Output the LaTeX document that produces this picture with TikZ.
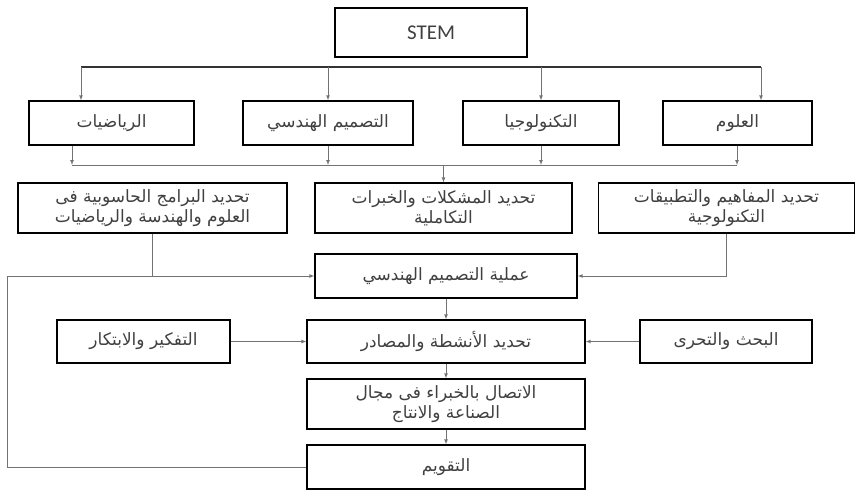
\documentclass[tikz,border=0pt]{standalone}
\usepackage{fontspec}
\setmainfont{Carlito}
\newfontfamily\arabicfont[Script=Arabic]{DejaVu Sans}
\TeXXeTstate=1
\newcommand{\artxt}[1]{\beginR #1\endR}
\usetikzlibrary{arrows}

\begin{document}
\begin{tikzpicture}[x=1pt, y=-1pt,
		>=latex,   %Pfeilspitzen
		box/.style={draw, line width=1.3pt, inner sep=1pt, align=center, text=black!75,
			font=\arabicfont\fontsize{17}{20}\selectfont},
		conn/.style={draw=black!55, line width=0.7pt}]
		\useasboundingbox (0,0) rectangle (856,490);
		% Kopf
		\node[box, minimum width=192pt, minimum height=49pt, font=\fontsize{21}{24}\selectfont] (stem) at (431,32.5) {STEM};
		% Zeile 2
		\node[box, minimum width=165pt, minimum height=44pt] (math) at (111.5,123) {\artxt{الرياضيات}};
		\node[box, minimum width=170pt, minimum height=44pt] (eng) at (328,123) {\artxt{التصميم الهندسي}};
		\node[box, minimum width=156pt, minimum height=44pt] (tech) at (541,123) {\artxt{التكنولوجيا}};
		\node[box, minimum width=149pt, minimum height=44pt] (sci) at (737.5,123) {\artxt{العلوم}};
		% Zeile 3
		\node[box, minimum width=269pt, minimum height=50pt] (prog) at (152.5,208)
			{\artxt{تحديد البرامج الحاسوبية فى}\\\artxt{العلوم والهندسة والرياضيات}};
		\node[box, minimum width=257pt, minimum height=50pt] (prob) at (443.5,208)
			{\artxt{تحديد المشكلات والخبرات}\\\artxt{التكاملية}};
		\node[box, minimum width=256pt, minimum height=50pt] (conc) at (726.5,208)
			{\artxt{تحديد المفاهيم والتطبيقات}\\\artxt{التكنولوجية}};
		% Mitte
		\node[box, minimum width=262pt, minimum height=44pt] (process) at (446,276) {\artxt{عملية التصميم الهندسي}};
		\node[box, minimum width=173pt, minimum height=43pt] (think) at (143.5,341.5) {\artxt{التفكير والابتكار}};
		\node[box, minimum width=278pt, minimum height=43pt] (act) at (446,341.5) {\artxt{تحديد الأنشطة والمصادر}};
		\node[box, minimum width=172pt, minimum height=43pt] (search) at (726,341.5) {\artxt{البحث والتحرى}};
		\node[box, minimum width=278pt, minimum height=50pt] (contact) at (446,404)
			{\artxt{الاتصال بالخبراء فى مجال}\\\artxt{الصناعة والانتاج}};
		\node[box, minimum width=278pt, minimum height=44pt] (eval) at (446,467) {\artxt{التقويم}};
		% Hilfspunkte
		\coordinate (barL) at (81,67);
		\coordinate (barR) at (761,67);
		\coordinate (lowL) at (72,165);
		\coordinate (lowR) at (737,165);
		\coordinate (fbL) at (7,276);
		% Verteilung STEM
		\draw[line width=1.6pt, black!80] (barL) -- (barR);
		\draw[conn,->] (barL) -- (barL |- math.north);
		\draw[conn,->] (eng.north |- barL) -- (eng.north);
		\draw[conn,->] (tech.north |- barL) -- (tech.north);
		\draw[conn,->] (barR) -- (barR |- sci.north);
		% Zusammenfuehrung
		\draw[conn] (lowL) -- (lowR);
		\draw[conn,->] (lowL |- math.south) -- (lowL);
		\draw[conn,->] (eng.south) -- (eng.south |- lowL);
		\draw[conn,->] (tech.south) -- (tech.south |- lowL);
		\draw[conn,->] (lowR |- sci.south) -- (lowR);
		\draw[conn,->] (prob.north |- lowL) -- (prob.north);
		% Zufluesse zur Prozessbox
		\draw[conn] (prog.south) -- (prog.south |- process.west);
		\draw[conn,->] (conc.south) |- (process.east);
		\draw[conn,->] (eval.west) -- (eval.west -| fbL) -- (fbL) -- (process.west);
		% Mittelspalte
		\draw[conn,->] (process) -- (act);
		\draw[conn,->] (think) -- (act);
		\draw[conn,->] (search) -- (act);
		\draw[conn,->] (act) -- (contact);
		\draw[conn,->] (contact) -- (eval);
	\end{tikzpicture}
\end{document}
